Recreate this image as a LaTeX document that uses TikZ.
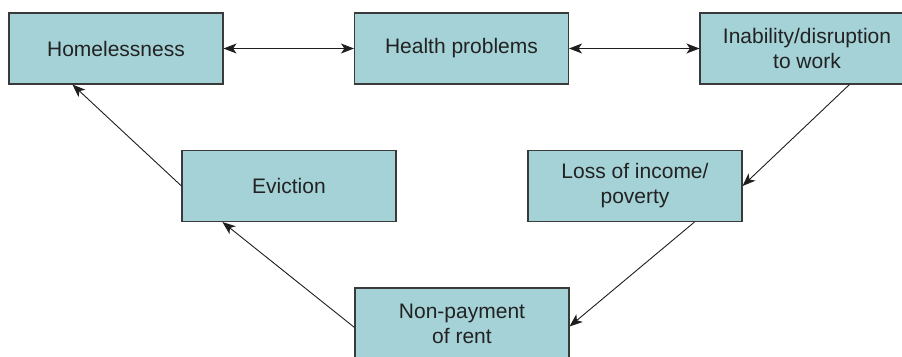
\documentclass[tikz,border=0pt]{standalone}
\usepackage{fontspec}
\setmainfont{Liberation Sans}
\usetikzlibrary{arrows.meta,calc}
\definecolor{boxfill}{HTML}{A4D2D7}
\definecolor{boxline}{HTML}{3A3A3A}
\definecolor{txt}{HTML}{222222}
\definecolor{conn}{HTML}{1E1E1E}
\tikzset{
  stagebox/.style={draw=boxline, line width=1.1pt, fill=boxfill, rectangle,
    minimum width=214pt, minimum height=71pt, inner sep=0pt, align=center,
    text=txt, font=\fontsize{21}{25}\selectfont},
  tipshape/.style={},
  link/.style={draw=conn, line width=0.9pt, -{Stealth[length=13pt,width=10pt,inset=3.5pt]}},
  dlink/.style={draw=conn, line width=0.9pt, {Stealth[length=13pt,width=10pt,inset=3.5pt]}-{Stealth[length=13pt,width=10pt,inset=3.5pt]}}
}
\begin{document}
\begin{tikzpicture}[x=1pt,y=-1pt]
\useasboundingbox (0,0) rectangle (902,356);
\clip (0,0) rectangle (902,356);
\node[stagebox] (home) at (116,48.5) {Homelessness};
\node[stagebox] (health) at (461.5,48.5) {Health problems};
\node[stagebox] (inab) at (807,48.5) {Inability/disruption\\to work};
\node[stagebox] (evict) at (289,186) {Eviction};
\node[stagebox] (loss) at (635,186) {Loss of income/\\poverty};
\node[stagebox] (np) at (462,323.5) {Non-payment\\of rent};
\draw[dlink] (home.east) -- (health.west);
\draw[dlink] (health.east) -- (inab.west);
\draw[link] ($(inab.south west)+(150,0)$) -- (loss.east);
\draw[link] ($(loss.south west)+(167,0)$) -- ($(np.north east)+(0,39)$);
\draw[link] ($(np.north west)+(0,40)$) -- ($(evict.south west)+(41,0)$);
\draw[link] (evict.west) -- ($(home.south west)+(64,0)$);
\end{tikzpicture}
\end{document}
